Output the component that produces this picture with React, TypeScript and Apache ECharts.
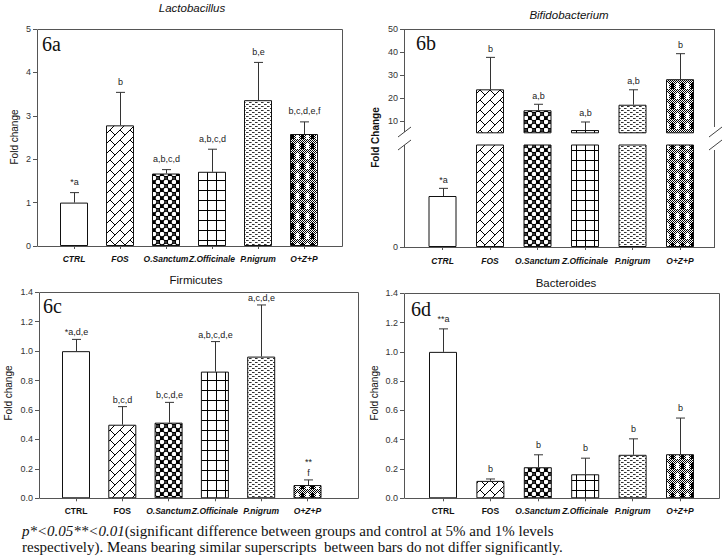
import React, { useEffect, useRef } from "react";
import * as echarts from "echarts";

// ---------- data ----------
const categories = ["CTRL", "FOS", "O.Sanctum", "Z.Officinale", "P.nigrum", "O+Z+P"];

const lactoValues = [1.0, 2.78, 1.67, 1.71, 3.36, 2.58];
const lactoErrTop = [1.23, 3.54, 1.76, 2.23, 4.23, 2.86];
const lactoLabels = ["*a", "b", "a,b,c,d", "a,b,c,d", "b,e", "b,c,d,e,f"];
const lactoTicks = [0, 1, 2, 3, 4, 5];

const bifidoValues = [1.0, 23.9, 14.8, 6.2, 17.2, 28.3];
const bifidoErrTop = [1.15, 37.8, 17.4, 9.7, 23.7, 39.4];
const bifidoLabels = ["*a", "b", "a,b", "a,b", "a,b", "b"];
const bifidoUpperTicks = [10, 20, 30, 40, 50];
const bifidoLowerTicks = [0];
const bifidoUpperRange = [5, 50];
const bifidoLowerRange = [0, 2];

const firmiValues = [1.0, 0.5, 0.514, 0.861, 0.963, 0.09];
const firmiErrTop = [1.08, 0.623, 0.652, 1.065, 1.314, 0.125];
const firmiLabels = ["*a,d,e", "b,c,d", "b,c,d,e", "a,b,c,d,e", "a,c,d,e", "**\nf"];

const bactValues = [1.0, 0.119, 0.212, 0.164, 0.297, 0.301];
const bactErrTop = [1.157, 0.132, 0.297, 0.274, 0.406, 0.548];
const bactLabels = ["**a", "b", "b", "b", "b", "b"];

const fractionTicks = [0, 0.2, 0.4, 0.6, 0.8, 1.0, 1.2, 1.4];
const uprightCategories = ["CTRL", "FOS"];

const titles = ["Lactobacillus", "Bifidobacterium", "Firmicutes", "Bacteroides"];
const tags = ["6a", "6b", "6c", "6d"];
const footLine1Italic = "p*<0.05**<0.01";
const footLine1 = "(significant difference between groups and control at 5% and 1% levels";
const footLine2 = "respectively). Means bearing similar superscripts  between bars do not differ significantly.";

// ---------- styling ----------
const SANS = "Liberation Sans, Arial, Helvetica, sans-serif";
const SERIF = "Liberation Serif, Times New Roman, serif";
const AXIS = "#555";
const TXT = "#222";

type Ctx = CanvasRenderingContext2D;
function tile(w: number, h: number, draw: (ctx: Ctx) => void) {
  const c = document.createElement("canvas");
  c.width = w;
  c.height = h;
  const ctx = c.getContext("2d") as Ctx;
  draw(ctx);
  return { image: c.toDataURL(), repeat: "repeat", imageWidth: w, imageHeight: h };
}

function makePatterns() {
  const ctrl = "#ffffff";
  const fos = tile(20, 20, (ctx) => {
    ctx.fillStyle = "#fff";
    ctx.fillRect(0, 0, 20, 20);
    ctx.strokeStyle = "#000";
    ctx.lineWidth = 1;
    ctx.beginPath();
    for (let c = -40; c <= 80; c += 10) {
      ctx.moveTo(c + 40, -40);
      ctx.lineTo(c - 40, 40);
    }
    for (let k = -8; k <= 10; k++) {
      const odd = ((k % 2) + 2) % 2;
      for (let m = -8; m <= 10; m++) {
        const s = 10 * m + (odd ? 5 : 0);
        const px = 5 * k + s;
        const py = 5 * k - s;
        if (px < -10 || px > 30 || py < -10 || py > 30) continue;
        ctx.moveTo(px, py);
        ctx.lineTo(px + 5, py + 5);
      }
    }
    ctx.stroke();
  });
  const osan = tile(8, 8, (ctx) => {
    ctx.fillStyle = "#000";
    ctx.fillRect(0, 0, 8, 8);
    ctx.fillStyle = "#fff";
    ctx.beginPath();
    ctx.arc(2, 2, 2.3, 0, Math.PI * 2);
    ctx.fill();
    ctx.beginPath();
    ctx.arc(6, 6, 2.3, 0, Math.PI * 2);
    ctx.fill();
    ctx.fillStyle = "#444";
    ctx.beginPath();
    ctx.arc(6, 2, 1.1, 0, Math.PI * 2);
    ctx.fill();
  });
  const zoff = tile(9, 10, (ctx) => {
    ctx.fillStyle = "#fff";
    ctx.fillRect(0, 0, 9, 10);
    ctx.fillStyle = "#000";
    ctx.fillRect(0, 0, 1, 10);
    ctx.fillRect(0, 0, 9, 1);
  });
  const pnig = tile(6, 4, (ctx) => {
    ctx.fillStyle = "#fff";
    ctx.fillRect(0, 0, 6, 4);
    ctx.fillStyle = "#333";
    ctx.fillRect(0, 0, 2, 1);
    ctx.fillRect(3, 2, 2, 1);
    ctx.fillStyle = "#888";
    ctx.fillRect(2, 0, 1, 1);
    ctx.fillRect(5, 2, 1, 1);
  });
  const ozp = tile(10, 10, (ctx) => {
    for (let y = 0; y < 10; y++)
      for (let x = 0; x < 10; x++) {
        ctx.fillStyle = (x + y) % 2 === 0 ? "#000" : "#fff";
        ctx.fillRect(x, y, 1, 1);
      }
    ctx.fillStyle = "#000";
    ctx.fillRect(1, 3, 3, 6);
    ctx.fillStyle = "#fff";
    ctx.fillRect(6, 3, 3, 6);
  });
  return [ctrl, fos, osan, zoff, pnig, ozp];
}

function barSeries(values: number[], gi: number, patterns: any[], minV?: number) {
  return {
    type: "bar",
    xAxisIndex: gi,
    yAxisIndex: gi,
    barWidth: 28,
    clip: true,
    data: values.map((v, i) => ({
      value: minV !== undefined && v < minV ? "-" : v,
      itemStyle: { color: patterns[i], borderColor: "#111", borderWidth: 1 },
    })),
    z: 2,
  };
}

function errSeries(
  values: number[],
  errTop: number[],
  labels: string[],
  gi: number,
  gap: number,
  keep: (i: number) => boolean
) {
  return {
    type: "custom",
    xAxisIndex: gi,
    yAxisIndex: gi,
    clip: true,
    z: 5,
    data: values.map((v, i) => [i, v, errTop[i]]),
    renderItem: (params: any, api: any) => {
      const i = params.dataIndex;
      if (!keep(i)) return null;
      const top = api.coord([api.value(0), api.value(1)]);
      const err = api.coord([api.value(0), api.value(2)]);
      const x = Math.round(top[0]) + 0.5;
      return {
        type: "group",
        children: [
          {
            type: "line",
            shape: { x1: x, y1: top[1], x2: x, y2: err[1] },
            style: { stroke: "#333", lineWidth: 1 },
          },
          {
            type: "line",
            shape: { x1: x - 4.5, y1: err[1], x2: x + 4.5, y2: err[1] },
            style: { stroke: "#333", lineWidth: 1 },
          },
          {
            type: "text",
            x: x,
            y: err[1] - gap,
            style: {
              text: labels[i],
              fill: TXT,
              fontFamily: SANS,
              fontSize: 9,
              align: "center",
              verticalAlign: "bottom",
              lineHeight: 11,
            },
          },
        ],
      };
    },
  };
}

function xAxis(gi: number, show: boolean, mixed: boolean, margin: number) {
  const base = { fontFamily: SANS, fontSize: 8.5, fontWeight: "bold", color: "#111" };
  return {
    type: "category",
    gridIndex: gi,
    data: categories,
    boundaryGap: true,
    axisLine: { show: false },
    axisTick: { show: show, alignWithLabel: true, length: 3, lineStyle: { color: AXIS } },
    axisLabel: {
      show: show,
      margin: margin,
      interval: 0,
      ...base,
      fontStyle: "italic",
      formatter: mixed
        ? (v: string) => (uprightCategories.includes(v) ? `{u|${v}}` : `{i|${v}}`)
        : undefined,
      rich: mixed
        ? {
            u: { ...base, fontStyle: "normal" },
            i: { ...base, fontStyle: "italic" },
          }
        : undefined,
    },
    splitLine: { show: false },
  };
}

function yAxis(gi: number, min: number, max: number, ticks: number[], offset: number, fmt: (v: number) => string) {
  return {
    type: "value",
    gridIndex: gi,
    min,
    max,
    offset,
    axisLine: { show: false },
    axisTick: { show: true, length: 4, customValues: ticks, lineStyle: { color: AXIS } },
    axisLabel: {
      show: true,
      customValues: ticks,
      margin: 6,
      color: "#333",
      fontFamily: SANS,
      fontSize: 9,
      formatter: fmt,
    },
    splitLine: { show: false },
  };
}

const intFmt = (v: number) => String(Math.round(v));
const decFmt = (v: number) => v.toFixed(1);

export default function App() {
  const ref = useRef<HTMLDivElement>(null);
  useEffect(() => {
    if (!ref.current) return;
    const chart = echarts.init(ref.current, null, { renderer: "svg" });
    const patterns = makePatterns();

    const lineEl = (x1: number, y1: number, x2: number, y2: number, color = AXIS) => ({
      type: "line",
      shape: { x1, y1, x2, y2 },
      style: { stroke: color, lineWidth: 1 },
      z: 10,
    });
    const frame = (x: number, y: number, w: number, h: number) => ({
      type: "rect",
      shape: { x: x + 0.5, y: y + 0.5, width: w, height: h },
      style: { fill: "none", stroke: AXIS, lineWidth: 1 },
      z: 10,
    });
    const txt = (
      x: number,
      y: number,
      text: string,
      family: string,
      size: number,
      opts: { rotation?: number; align?: string; weight?: string; italic?: boolean } = {}
    ) => ({
      type: "text",
      x,
      y,
      rotation: opts.rotation || 0,
      style: {
        text,
        fontFamily: family,
        fontSize: size,
        fontWeight: opts.weight || "normal",
        fontStyle: opts.italic ? "italic" : "normal",
        fill: "#111",
        align: opts.align || "center",
        verticalAlign: "middle",
      },
      z: 10,
    });

    const option: any = {
      animation: false,
      backgroundColor: "#fff",
      grid: [
        { left: 51, top: 29, width: 276, height: 217 },
        { left: 418.75, top: 29.3, width: 285, height: 103.5 },
        { left: 418.75, top: 145, width: 285, height: 102 },
        { left: 52.85, top: 292.3, width: 277.8, height: 206 },
        { left: 419.3, top: 293.3, width: 284.4, height: 205 },
      ],
      xAxis: [
        xAxis(0, true, false, 8),
        xAxis(1, false, false, 8),
        xAxis(2, true, false, 9),
        xAxis(3, true, true, 8),
        xAxis(4, true, true, 8),
      ],
      yAxis: [
        yAxis(0, 0, 5, lactoTicks, 14, intFmt),
        yAxis(1, bifidoUpperRange[0], bifidoUpperRange[1], bifidoUpperTicks, 14.75, intFmt),
        yAxis(2, bifidoLowerRange[0], bifidoLowerRange[1], bifidoLowerTicks, 14.75, intFmt),
        yAxis(3, 0, 1.4, fractionTicks, 13.85, decFmt),
        yAxis(4, 0, 1.4, fractionTicks, 15.3, decFmt),
      ],
      series: [
        barSeries(lactoValues, 0, patterns),
        errSeries(lactoValues, lactoErrTop, lactoLabels, 0, 5, () => true),
        barSeries(bifidoValues, 1, patterns, bifidoUpperRange[0]),
        errSeries(bifidoValues, bifidoErrTop, bifidoLabels, 1, 3, (i) => bifidoValues[i] >= bifidoUpperRange[0]),
        barSeries(bifidoValues, 2, patterns),
        errSeries(bifidoValues, bifidoErrTop, bifidoLabels, 2, 3, (i) => bifidoErrTop[i] <= bifidoLowerRange[1]),
        barSeries(firmiValues, 3, patterns),
        errSeries(firmiValues, firmiErrTop, firmiLabels, 3, 1.5, () => true),
        barSeries(bactValues, 4, patterns),
        errSeries(bactValues, bactErrTop, bactLabels, 4, 4.5, () => true),
      ],
      graphic: [
        // frames
        frame(37, 29, 305, 217),
        frame(39, 292, 319, 206),
        frame(404, 293, 315, 205),
        lineEl(404, 29.5, 714, 29.5),
        lineEl(404, 247.5, 714, 247.5),
        lineEl(404.5, 29, 404.5, 132),
        lineEl(404.5, 145, 404.5, 248),
        lineEl(714.5, 29, 714.5, 127),
        lineEl(714.5, 150, 714.5, 248),
        // break marks
        lineEl(398, 137, 411, 127, "#444"),
        lineEl(398, 150, 411, 140, "#444"),
        lineEl(709, 137, 722, 127, "#444"),
        lineEl(709, 150, 722, 140, "#444"),
        // titles
        txt(192, 8, titles[0], SANS, 11.5, { italic: true }),
        txt(569, 15, titles[1], SANS, 11.5, { italic: true }),
        txt(196, 280, titles[2], SANS, 11.5),
        txt(566, 283, titles[3], SANS, 11.5),
        // tags
        txt(42, 44, tags[0], SERIF, 20, { align: "left" }),
        txt(416, 42.5, tags[1], SERIF, 20, { align: "left" }),
        txt(43, 306, tags[2], SERIF, 20, { align: "left" }),
        txt(411, 309, tags[3], SERIF, 20, { align: "left" }),
        // y names
        txt(14, 137, "Fold change", SANS, 10, { rotation: Math.PI / 2 }),
        txt(375.5, 137.5, "Fold Change", SANS, 10, { rotation: Math.PI / 2, weight: "bold" }),
        txt(8, 393, "Fold change", SANS, 10, { rotation: Math.PI / 2 }),
        txt(374.5, 393, "Fold change", SANS, 10, { rotation: Math.PI / 2 }),
        // footnote
        {
          type: "text",
          x: 22,
          y: 531,
          style: {
            text: `{i|${footLine1Italic}}{n|${footLine1}}`,
            verticalAlign: "middle",
            rich: {
              i: { fontFamily: SERIF, fontSize: 15, fontStyle: "italic", fill: "#111" },
              n: { fontFamily: SERIF, fontSize: 15, fontStyle: "normal", fill: "#111" },
            },
          },
          z: 10,
        },
        txt(22, 547, footLine2, SERIF, 15, { align: "left" }),
      ],
    };
    chart.setOption(option);
    return () => chart.dispose();
  }, []);
  return (
    <div
      ref={ref}
      style={{ position: "fixed", left: 0, top: 0, width: 727, height: 556, background: "#fff" }}
    />
  );
}
